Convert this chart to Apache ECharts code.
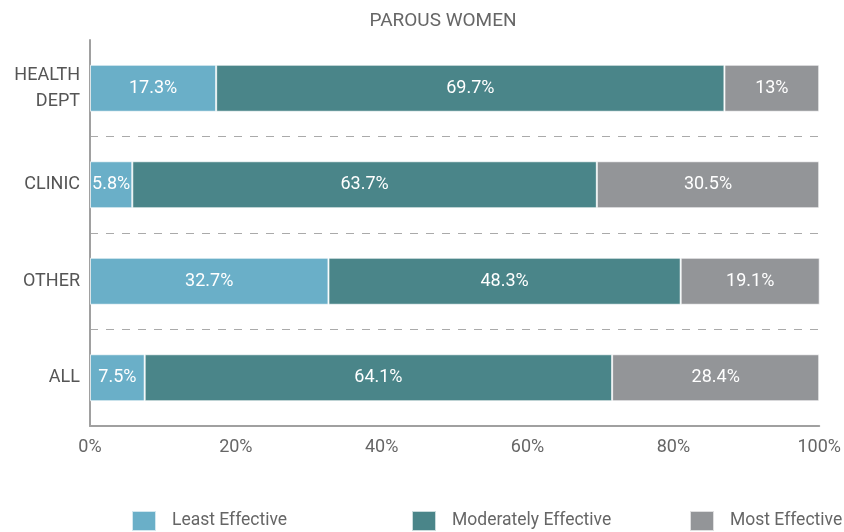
<!DOCTYPE html>
<html>
<head>
<meta charset="utf-8">
<script src="https://cdn.jsdelivr.net/npm/echarts@6/dist/echarts.min.js"></script>
<style>
html,body{margin:0;padding:0;background:#fff;}
#main{width:844px;height:532px;}
</style>
</head>
<body>
<div id="main"></div>
<script>
var categories = ['HEALTH\nDEPT', 'CLINIC', 'OTHER', 'ALL'];
var leastEffective = [17.3, 5.8, 32.7, 7.5];
var moderatelyEffective = [69.7, 63.7, 48.3, 64.1];
var mostEffective = [13, 30.5, 19.1, 28.4];
var seriesNames = ['Least Effective', 'Moderately Effective', 'Most Effective'];
var seriesColors = ['#6aafc8', '#4a8589', '#939598'];

var fontName = 'Roboto';
var chart = echarts.init(document.getElementById('main'));

function makeSeries(name, data, color){
    return {
        name: name,
        type: 'bar',
        stack: 'total',
        barWidth: 47,
        data: data,
        itemStyle: {color: color, borderColor: 'rgba(255,255,255,0.7)', borderWidth: 1},
        label: {
            show: true,
            position: 'inside',
            color: '#fff',
            fontFamily: fontName,
            fontSize: 18,
            formatter: function(p){ return p.value + '%'; }
        },
        emphasis: {disabled: true}
    };
}

function makeLegend(name, left){
    return {
        data: [name],
        left: left,
        top: 510,
        padding: 0,
        itemWidth: 24,
        itemHeight: 20,
        itemGap: 0,
        icon: 'rect',
        textStyle: {color: '#666', fontSize: 17.5, fontFamily: fontName, padding: [0, 0, 0, 11]}
    };
}

var option = {
    animation: false,
    title: {
        text: 'PAROUS WOMEN',
        left: 438,
        textAlign: 'center',
        top: 7,
        textStyle: {color: '#666', fontSize: 19, fontWeight: 'normal', fontFamily: fontName}
    },
    legend: [
        makeLegend(seriesNames[0], 131),
        makeLegend(seriesNames[1], 411),
        makeLegend(seriesNames[2], 689)
    ],
    grid: {left: 90, right: 23, top: 40, bottom: 106, containLabel: false},
    xAxis: {
        type: 'value',
        min: 0,
        max: 100,
        interval: 20,
        axisLine: {show: true, lineStyle: {color: '#a0a0a0', width: 2}},
        axisTick: {show: false},
        splitLine: {show: false},
        axisLabel: {
            formatter: '{value}%',
            color: '#666',
            fontSize: 18,
            fontFamily: fontName,
            margin: 12
        }
    },
    yAxis: {
        type: 'category',
        inverse: true,
        data: categories,
        axisLine: {show: true, lineStyle: {color: '#a0a0a0', width: 2}},
        axisTick: {show: false},
        splitLine: {
            show: true,
            interval: function(index){ return index > 0; },
            lineStyle: {color: '#aaa', type: [8, 8], width: 1}
        },
        axisLabel: {
            color: '#555',
            fontSize: 18,
            lineHeight: 26,
            fontFamily: fontName,
            margin: 10
        }
    },
    series: [
        makeSeries(seriesNames[0], leastEffective, seriesColors[0]),
        makeSeries(seriesNames[1], moderatelyEffective, seriesColors[1]),
        makeSeries(seriesNames[2], mostEffective, seriesColors[2])
    ]
};
chart.setOption(option);
</script>
</body>
</html>
